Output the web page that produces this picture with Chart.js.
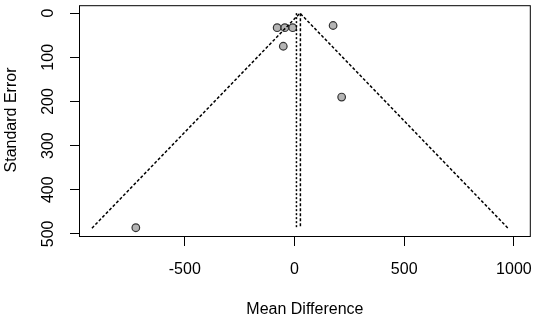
<!DOCTYPE html>
<html>
<head>
<meta charset="utf-8">
<script src="https://cdn.jsdelivr.net/npm/chart.js@4/dist/chart.umd.min.js"></script>
<style>
    html, body { margin: 0; padding: 0; background: #fff; }
    #wrap { width: 536px; height: 317px; }
</style>
</head>
<body>
<div id="wrap"><canvas id="chart"></canvas></div>
<script>
// studies: mean difference vs standard error
const studyMD = [-79, -44, -8, -51, 176, 215, -723]
const studySE = [33, 33, 33, 75, 28, 190, 486]

// funnel outline (pseudo confidence region)
const funnelX = [-923, 25, 973]
const funnelY = [487, 0, 487]

// pooled estimates (fixed / random)
const fixedX = [9, 9]
const randomX = [27, 27]
const pooledY = [0, 487]

const xTicks = [-500, 0, 500, 1000]
const yTicks = [0, 100, 200, 300, 400, 500]

const FONT = "16px 'Liberation Sans', Arial, sans-serif"

const toPts = (xs, ys) => xs.map((x, i) => ({ x, y: ys[i] }))

const funnelPlot = {
    id: "funnelPlot",
    afterDraw(chart) {
        const { ctx, chartArea: a, scales } = chart
        ctx.save()
        // box
        ctx.strokeStyle = "#000"
        ctx.lineWidth = 1
        ctx.strokeRect(a.left + 0.5, a.top + 0.5, a.right - a.left - 1, a.bottom - a.top - 1)

        ctx.fillStyle = "#000"
        ctx.font = FONT
        // x tick labels
        ctx.textAlign = "center"
        ctx.textBaseline = "alphabetic"
        xTicks.forEach((v) => {
            ctx.fillText(String(v), scales.x.getPixelForValue(v), 274)
        })
        ctx.fillText("Mean Difference", (a.left + a.right) / 2, 314)

        // y tick labels, rotated like R
        yTicks.forEach((v) => {
            ctx.save()
            ctx.translate(53, scales.y.getPixelForValue(v))
            ctx.rotate(-Math.PI / 2)
            ctx.fillText(String(v), 0, 0)
            ctx.restore()
        })
        ctx.save()
        ctx.translate(16, 120)
        ctx.rotate(-Math.PI / 2)
        ctx.fillText("Standard Error", 0, 0)
        ctx.restore()
        ctx.restore()
    },
}

new Chart(document.getElementById("chart"), {
    type: "scatter",
    data: {
        datasets: [
            {
                data: toPts(funnelX, funnelY),
                showLine: true,
                borderColor: "#000",
                borderWidth: 1.5,
                borderDash: [3, 2],
                pointRadius: 0,
            },
            {
                data: toPts(fixedX, pooledY),
                showLine: true,
                borderColor: "#000",
                borderWidth: 1.5,
                borderDash: [2, 2],
                pointRadius: 0,
            },
            {
                data: toPts(randomX, pooledY),
                showLine: true,
                borderColor: "#000",
                borderWidth: 1.5,
                borderDash: [3, 2],
                pointRadius: 0,
            },
            {
                data: toPts(studyMD, studySE),
                pointRadius: 3.8,
                pointBackgroundColor: "#b4b4b4",
                pointBorderColor: "#333",
                pointBorderWidth: 1.2,
            },
        ],
    },
    plugins: [funnelPlot],
    options: {
        responsive: true,
        maintainAspectRatio: false,
        animation: false,
        layout: { padding: { top: 3, right: 4, left: 0, bottom: 0 } },
        plugins: {
            legend: { display: false },
            tooltip: { enabled: false },
        },
        scales: {
            x: {
                type: "linear",
                min: -982,
                max: 1077,
                afterBuildTicks: (scale) => {
                    scale.ticks = xTicks.map((value) => ({ value }))
                },
                afterFit: (scale) => {
                    scale.height = 80
                },
                border: { display: false },
                grid: {
                    drawOnChartArea: false,
                    drawTicks: true,
                    tickLength: 9,
                    color: "#000",
                    tickColor: "#000",
                },
                ticks: { display: false },
            },
            y: {
                type: "linear",
                reverse: true,
                min: -18,
                max: 507,
                afterBuildTicks: (scale) => {
                    scale.ticks = yTicks.map((value) => ({ value }))
                },
                afterFit: (scale) => {
                    scale.width = 79
                },
                border: { display: false },
                grid: {
                    drawOnChartArea: false,
                    drawTicks: true,
                    tickLength: 9,
                    color: "#000",
                    tickColor: "#000",
                },
                ticks: { display: false },
            },
        },
    },
})
</script>
</body>
</html>
